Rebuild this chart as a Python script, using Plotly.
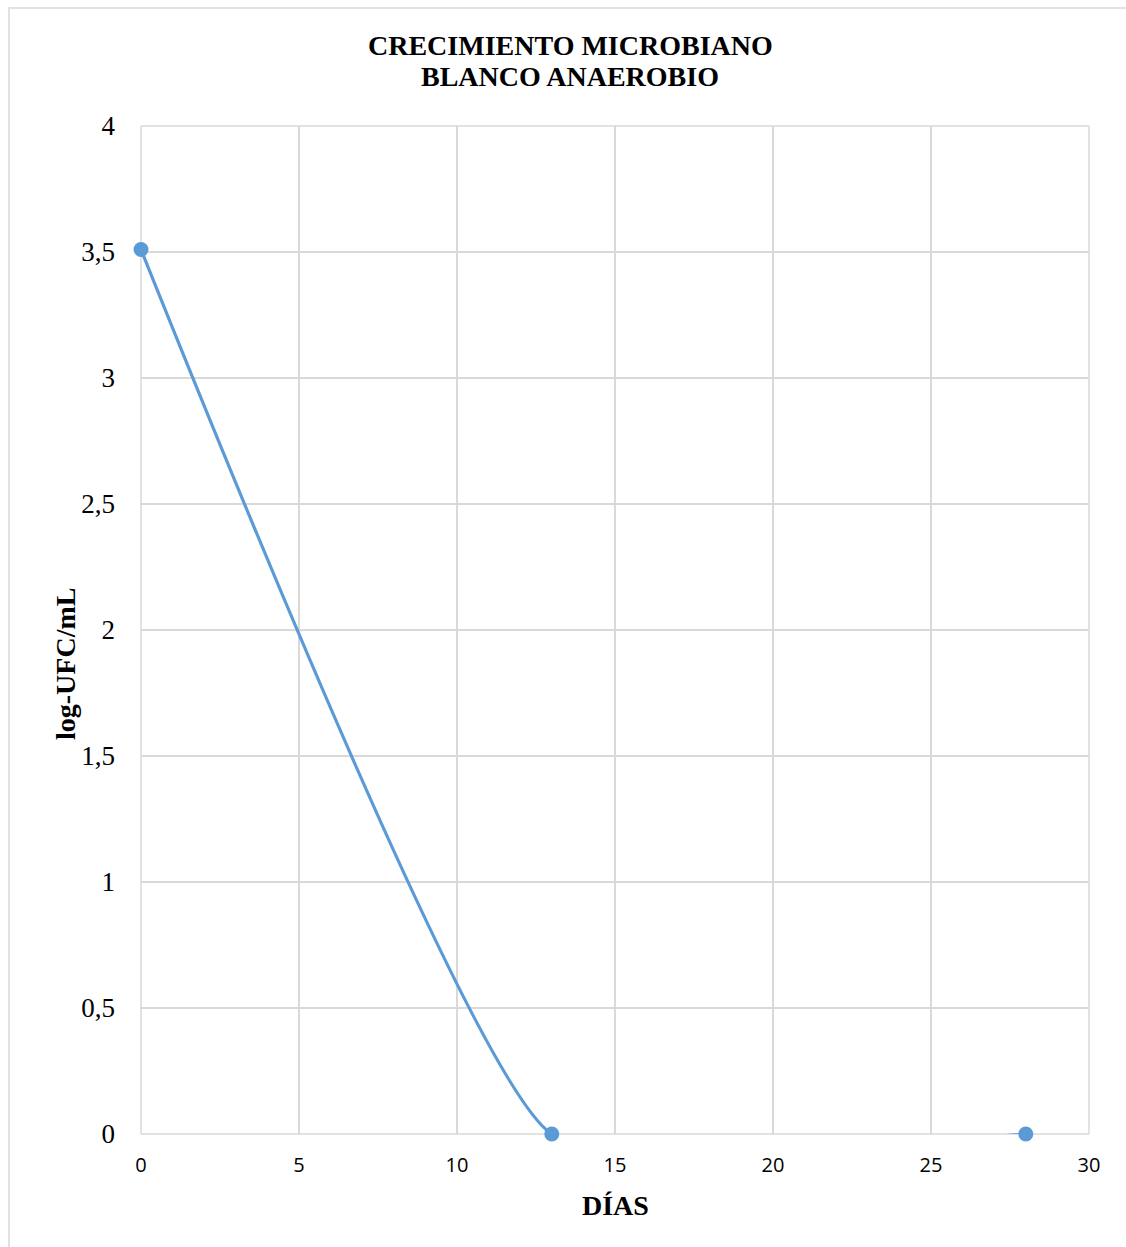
import plotly.graph_objects as go

dias = [0, 13, 28]
log_ufc = [3.51, 0, 0]
x_ticks = [0, 5, 10, 15, 20, 25, 30]
y_ticks = [0, 0.5, 1, 1.5, 2, 2.5, 3, 3.5, 4]
title_lines = ["CRECIMIENTO MICROBIANO", "BLANCO ANAEROBIO"]

W, H = 1126, 1247
L, R, T, B = 141, 1089, 126, 1134

def px_x(p):
    return (p - L) / (R - L)

def px_y(p):
    return (B - p) / (B - T)

blue = "#5b9bd5"
fig = go.Figure()
fig.add_trace(go.Scatter(
    x=dias, y=log_ufc, mode="lines",
    line=dict(color=blue, width=3.2, shape="spline", smoothing=0.4),
    cliponaxis=True, showlegend=False, hoverinfo="skip",
))
fig.add_trace(go.Scatter(
    x=dias, y=log_ufc, mode="markers",
    marker=dict(color=blue, size=15),
    cliponaxis=False, showlegend=False,
))

grid = "#d9d9d9"
fig.update_layout(
    width=W, height=H,
    margin=dict(l=L, r=W - R, t=T, b=H - B, autoexpand=False),
    paper_bgcolor="white", plot_bgcolor="white",
    separators=",.",
    xaxis=dict(range=[0, 30], tickvals=x_ticks, showgrid=True, gridcolor=grid, gridwidth=1.5,
               zeroline=False, showline=False, ticks="", ticklabelstandoff=17,
               tickfont=dict(family="Open Sans, Liberation Sans", size=20, color="#000")),
    yaxis=dict(range=[0, 4], tickvals=y_ticks, showgrid=True, gridcolor=grid, gridwidth=1.5,
               zeroline=False, showline=False, ticks="", ticklabelstandoff=25,
               tickfont=dict(family="Liberation Serif", size=27, color="#000")),
    shapes=[
        dict(type="line", xref="paper", yref="paper", x0=0, x1=1, y0=0, y1=0,
             line=dict(color=grid, width=1.5), layer="below"),
        dict(type="line", xref="paper", yref="paper", x0=0, x1=1, y0=1, y1=1,
             line=dict(color=grid, width=1.5), layer="below"),
        dict(type="line", xref="paper", yref="paper", x0=0, x1=0, y0=0, y1=1,
             line=dict(color=grid, width=1.5), layer="below"),
        dict(type="line", xref="paper", yref="paper", x0=1, x1=1, y0=0, y1=1,
             line=dict(color=grid, width=1.5), layer="below"),
        dict(type="rect", xref="paper", yref="paper",
             x0=px_x(9), x1=px_x(1140), y0=px_y(8), y1=px_y(1270),
             line=dict(color="#d9d9d9", width=1.5), fillcolor="rgba(0,0,0,0)", layer="below"),
    ],
    annotations=[
        dict(text="<b>" + title_lines[0] + "</b>", xref="paper", yref="paper",
             x=px_x(570), y=px_y(45), xanchor="center", yanchor="middle", showarrow=False,
             font=dict(family="Liberation Serif", size=28, color="#000")),
        dict(text="<b>" + title_lines[1] + "</b>", xref="paper", yref="paper",
             x=px_x(570), y=px_y(77), xanchor="center", yanchor="middle", showarrow=False,
             font=dict(family="Liberation Serif", size=28, color="#000")),
        dict(text="<b>DÍAS</b>", xref="paper", yref="paper",
             x=px_x(615), y=px_y(1205), xanchor="center", yanchor="middle", showarrow=False,
             font=dict(family="Liberation Serif", size=28, color="#000")),
        dict(text="<b>log-UFC/mL</b>", xref="paper", yref="paper", textangle=-90,
             x=px_x(65), y=px_y(664), xanchor="center", yanchor="middle", showarrow=False,
             font=dict(family="Liberation Serif", size=28, color="#000")),
    ],
)

fig.write_html("out.html")
